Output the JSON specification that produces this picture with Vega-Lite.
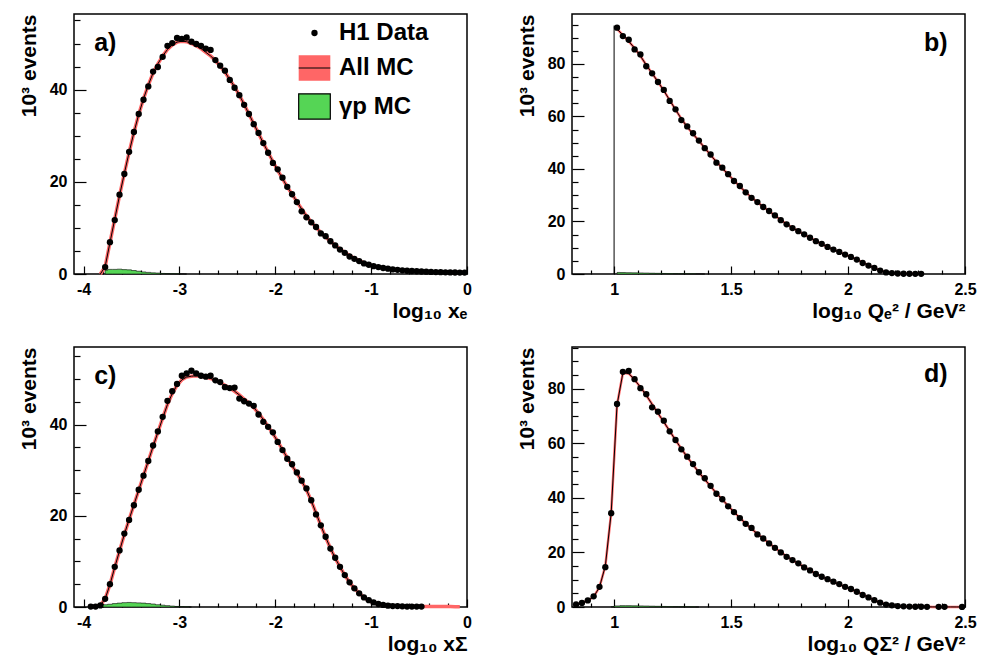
{
  "$schema": "https://vega.github.io/schema/vega-lite/v6.json",
  "background": "white",
  "padding": {"left": 17, "top": 13, "right": 5, "bottom": 5},
  "config": {
    "font": "Liberation Sans",
    "view": {"stroke": "black", "strokeWidth": 1.5},
    "axis": {
      "domain": false, "grid": false, "ticks": true, "tickColor": "black", "tickWidth": 1.2,
      "labelFont": "Liberation Sans", "labelFontWeight": "bold", "labelFontSize": 16, "labelColor": "black",
      "titleFont": "Liberation Sans", "titleFontWeight": "bold", "titleFontSize": 21, "titleColor": "black",
      "labelFlush": false, "labelOverlap": false, "labelBound": false
    },
    "text": {"font": "Liberation Sans", "fontWeight": "bold", "fontSize": 25, "color": "black"}
  },
  "datasets": {
    "a": [
      {"x": -3.825, "m": 0},
      {"x": -3.775, "d": 1.5, "m": 1.6, "g": 0.8},
      {"x": -3.725, "d": 6.9, "m": 6.8, "g": 1.0},
      {"x": -3.675, "d": 11.7, "m": 11.9, "g": 1.0},
      {"x": -3.625, "d": 17.2, "m": 17.0, "g": 1.05},
      {"x": -3.575, "d": 21.7, "m": 21.8, "g": 0.95},
      {"x": -3.525, "d": 26.5, "m": 26.4, "g": 0.9},
      {"x": -3.475, "d": 30.8, "m": 30.7, "g": 0.75},
      {"x": -3.425, "d": 34.7, "m": 34.6, "g": 0.6},
      {"x": -3.375, "d": 37.8, "m": 38.0, "g": 0.45},
      {"x": -3.325, "d": 40.7, "m": 41.0, "g": 0.35},
      {"x": -3.275, "d": 43.9, "m": 43.6, "g": 0.25},
      {"x": -3.225, "d": 44.9, "m": 45.6, "g": 0.2},
      {"x": -3.175, "d": 47.1, "m": 47.3, "g": 0.12},
      {"x": -3.125, "d": 49.5, "m": 48.7, "g": 0.08},
      {"x": -3.075, "d": 50.1, "m": 49.7, "g": 0.05},
      {"x": -3.025, "d": 51.2, "m": 50.3, "g": 0.03},
      {"x": -2.975, "d": 51.0, "m": 50.5, "g": 0.02},
      {"x": -2.925, "d": 51.3, "m": 50.4, "g": 0},
      {"x": -2.875, "d": 50.4, "m": 50.0},
      {"x": -2.825, "d": 49.9, "m": 49.5},
      {"x": -2.775, "d": 49.5, "m": 48.9},
      {"x": -2.725, "d": 48.9, "m": 48.1},
      {"x": -2.675, "d": 48.6, "m": 47.3},
      {"x": -2.625, "d": 46.4, "m": 46.3},
      {"x": -2.575, "d": 45.2, "m": 45.1},
      {"x": -2.525, "d": 44.1, "m": 43.8},
      {"x": -2.475, "d": 42.1, "m": 42.2},
      {"x": -2.425, "d": 40.4, "m": 40.6},
      {"x": -2.375, "d": 38.8, "m": 38.8},
      {"x": -2.325, "d": 36.7, "m": 36.8},
      {"x": -2.275, "d": 34.7, "m": 34.7},
      {"x": -2.225, "d": 32.5, "m": 32.6},
      {"x": -2.175, "d": 30.6, "m": 30.5},
      {"x": -2.125, "d": 28.4, "m": 28.4},
      {"x": -2.075, "d": 26.3, "m": 26.4},
      {"x": -2.025, "d": 24.1, "m": 24.4},
      {"x": -1.975, "d": 22.7, "m": 22.5},
      {"x": -1.925, "d": 20.9, "m": 20.7},
      {"x": -1.875, "d": 18.9, "m": 18.9},
      {"x": -1.825, "d": 17.3, "m": 17.3},
      {"x": -1.775, "d": 15.6, "m": 15.7},
      {"x": -1.725, "d": 13.6, "m": 14.1},
      {"x": -1.675, "d": 12.3, "m": 12.6},
      {"x": -1.625, "d": 11.2, "m": 11.3},
      {"x": -1.575, "d": 10.2, "m": 10.1},
      {"x": -1.525, "d": 8.8, "m": 9.0},
      {"x": -1.475, "d": 8.2, "m": 8.0},
      {"x": -1.425, "d": 7.1, "m": 7.1},
      {"x": -1.375, "d": 6.2, "m": 6.2},
      {"x": -1.325, "d": 5.3, "m": 5.4},
      {"x": -1.275, "d": 4.6, "m": 4.7},
      {"x": -1.225, "d": 3.8, "m": 4.0},
      {"x": -1.175, "d": 3.3, "m": 3.4},
      {"x": -1.125, "d": 2.8, "m": 2.9},
      {"x": -1.075, "d": 2.3, "m": 2.4},
      {"x": -1.025, "d": 2.0, "m": 2.0},
      {"x": -0.975, "d": 1.7, "m": 1.7},
      {"x": -0.925, "d": 1.5, "m": 1.5},
      {"x": -0.875, "d": 1.3, "m": 1.3},
      {"x": -0.825, "d": 1.15, "m": 1.15},
      {"x": -0.775, "d": 1.0, "m": 1.0},
      {"x": -0.725, "d": 0.9, "m": 0.9},
      {"x": -0.675, "d": 0.8, "m": 0.8},
      {"x": -0.625, "d": 0.7, "m": 0.72},
      {"x": -0.575, "d": 0.65, "m": 0.65},
      {"x": -0.525, "d": 0.6, "m": 0.6},
      {"x": -0.475, "d": 0.55, "m": 0.55},
      {"x": -0.425, "d": 0.5, "m": 0.5},
      {"x": -0.375, "d": 0.45, "m": 0.46},
      {"x": -0.325, "d": 0.42, "m": 0.43},
      {"x": -0.275, "d": 0.4, "m": 0.4},
      {"x": -0.225, "d": 0.37, "m": 0.37},
      {"x": -0.175, "d": 0.35, "m": 0.35},
      {"x": -0.125, "d": 0.32, "m": 0.33},
      {"x": -0.075, "d": 0.3, "m": 0.31},
      {"x": -0.025, "d": 0.3, "m": 0.3}
    ],
    "b": [
      {"x": 0.9999, "m": 0},
      {"x": 1.0, "m": 94.5},
      {"x": 1.0125, "d": 93.8, "m": 93.3, "g": 0.6},
      {"x": 1.0375, "d": 90.6, "m": 91.0, "g": 0.55},
      {"x": 1.0625, "d": 89.2, "m": 88.6, "g": 0.5},
      {"x": 1.0875, "d": 85.5, "m": 86.0, "g": 0.45},
      {"x": 1.1125, "d": 83.6, "m": 83.0, "g": 0.4},
      {"x": 1.1375, "d": 79.1, "m": 79.6, "g": 0.35},
      {"x": 1.1625, "d": 76.4, "m": 76.4, "g": 0.3},
      {"x": 1.1875, "d": 73.1, "m": 73.2, "g": 0.25},
      {"x": 1.2125, "d": 70.1, "m": 69.8, "g": 0.2},
      {"x": 1.2375, "d": 65.9, "m": 66.2, "g": 0.15},
      {"x": 1.2625, "d": 62.7, "m": 62.6, "g": 0.12},
      {"x": 1.2875, "d": 58.6, "m": 59.1, "g": 0.1},
      {"x": 1.3125, "d": 56.2, "m": 56.0, "g": 0.08},
      {"x": 1.3375, "d": 53.6, "m": 53.3, "g": 0.06},
      {"x": 1.3625, "d": 50.8, "m": 50.7, "g": 0.04},
      {"x": 1.3875, "d": 47.9, "m": 48.0, "g": 0},
      {"x": 1.4125, "d": 45.5, "m": 45.3},
      {"x": 1.4375, "d": 42.4, "m": 42.7},
      {"x": 1.4625, "d": 40.5, "m": 40.3},
      {"x": 1.4875, "d": 38.0, "m": 37.9},
      {"x": 1.5125, "d": 35.4, "m": 35.6},
      {"x": 1.5375, "d": 33.5, "m": 33.3},
      {"x": 1.5625, "d": 31.1, "m": 31.2},
      {"x": 1.5875, "d": 29.0, "m": 29.1},
      {"x": 1.6125, "d": 27.4, "m": 27.3},
      {"x": 1.6375, "d": 25.5, "m": 25.6},
      {"x": 1.6625, "d": 24.0, "m": 23.9},
      {"x": 1.6875, "d": 22.3, "m": 22.3},
      {"x": 1.7125, "d": 20.5, "m": 20.6},
      {"x": 1.7375, "d": 18.9, "m": 19.0},
      {"x": 1.7625, "d": 17.5, "m": 17.6},
      {"x": 1.7875, "d": 16.3, "m": 16.3},
      {"x": 1.8125, "d": 15.1, "m": 15.0},
      {"x": 1.8375, "d": 13.8, "m": 13.8},
      {"x": 1.8625, "d": 12.5, "m": 12.6},
      {"x": 1.8875, "d": 11.5, "m": 11.4},
      {"x": 1.9125, "d": 10.3, "m": 10.3},
      {"x": 1.9375, "d": 9.3, "m": 9.3},
      {"x": 1.9625, "d": 8.4, "m": 8.4},
      {"x": 1.9875, "d": 7.4, "m": 7.4},
      {"x": 2.0125, "d": 6.5, "m": 6.5},
      {"x": 2.0375, "d": 5.5, "m": 5.5},
      {"x": 2.0625, "d": 4.2, "m": 4.4},
      {"x": 2.0875, "d": 3.2, "m": 3.3},
      {"x": 2.1125, "d": 2.3, "m": 2.3},
      {"x": 2.1375, "d": 1.3, "m": 1.4},
      {"x": 2.1625, "d": 0.6, "m": 0.7},
      {"x": 2.1875, "d": 0.35, "m": 0.35},
      {"x": 2.2125, "d": 0.2, "m": 0.2},
      {"x": 2.2375, "d": 0.1, "m": 0.12},
      {"x": 2.2625, "d": 0.1, "m": 0.08},
      {"x": 2.2875, "d": 0.05, "m": 0.05},
      {"x": 2.3125, "d": 0.05, "m": 0.05}
    ],
    "c": [
      {"x": -3.925, "d": 0.1, "m": 0.1},
      {"x": -3.875, "d": 0.1, "m": 0.15},
      {"x": -3.825, "d": 0.35, "m": 0.4, "g": 0.3},
      {"x": -3.775, "d": 1.8, "m": 1.8, "g": 0.5},
      {"x": -3.725, "d": 5.0, "m": 4.9, "g": 0.6},
      {"x": -3.675, "d": 8.8, "m": 8.7, "g": 0.75},
      {"x": -3.625, "d": 12.4, "m": 12.3, "g": 0.85},
      {"x": -3.575, "d": 16.1, "m": 15.9, "g": 0.95},
      {"x": -3.525, "d": 19.1, "m": 19.2, "g": 1.0},
      {"x": -3.475, "d": 22.3, "m": 22.4, "g": 0.95},
      {"x": -3.425, "d": 25.7, "m": 25.6, "g": 0.9},
      {"x": -3.375, "d": 28.8, "m": 28.8, "g": 0.85},
      {"x": -3.325, "d": 32.0, "m": 32.0, "g": 0.75},
      {"x": -3.275, "d": 35.4, "m": 35.2, "g": 0.65},
      {"x": -3.225, "d": 38.5, "m": 38.3, "g": 0.5},
      {"x": -3.175, "d": 41.7, "m": 41.4, "g": 0.4},
      {"x": -3.125, "d": 45.2, "m": 44.4, "g": 0.3},
      {"x": -3.075, "d": 47.3, "m": 46.8, "g": 0.2},
      {"x": -3.025, "d": 48.9, "m": 48.6, "g": 0.12},
      {"x": -2.975, "d": 50.7, "m": 49.8, "g": 0.08},
      {"x": -2.925, "d": 51.2, "m": 50.4, "g": 0.05},
      {"x": -2.875, "d": 51.8, "m": 50.6, "g": 0},
      {"x": -2.825, "d": 51.2, "m": 50.7},
      {"x": -2.775, "d": 50.7, "m": 50.6},
      {"x": -2.725, "d": 50.5, "m": 50.4},
      {"x": -2.675, "d": 50.7, "m": 50.1},
      {"x": -2.625, "d": 49.7, "m": 49.7},
      {"x": -2.575, "d": 49.3, "m": 49.2},
      {"x": -2.525, "d": 48.2, "m": 48.6},
      {"x": -2.475, "d": 48.0, "m": 48.0},
      {"x": -2.425, "d": 48.1, "m": 47.3},
      {"x": -2.375, "d": 45.7, "m": 46.5},
      {"x": -2.325, "d": 45.1, "m": 45.6},
      {"x": -2.275, "d": 44.6, "m": 44.7},
      {"x": -2.225, "d": 44.1, "m": 43.7},
      {"x": -2.175, "d": 42.2, "m": 42.5},
      {"x": -2.125, "d": 40.6, "m": 41.1},
      {"x": -2.075, "d": 39.5, "m": 39.6},
      {"x": -2.025, "d": 38.3, "m": 38.0},
      {"x": -1.975, "d": 36.2, "m": 36.3},
      {"x": -1.925, "d": 34.4, "m": 34.5},
      {"x": -1.875, "d": 32.5, "m": 32.7},
      {"x": -1.825, "d": 31.3, "m": 31.0},
      {"x": -1.775, "d": 29.5, "m": 29.3},
      {"x": -1.725, "d": 27.7, "m": 27.6},
      {"x": -1.675, "d": 26.0, "m": 25.7},
      {"x": -1.625, "d": 23.4, "m": 23.3},
      {"x": -1.575, "d": 20.3, "m": 20.6},
      {"x": -1.525, "d": 17.9, "m": 17.9},
      {"x": -1.475, "d": 15.4, "m": 15.3},
      {"x": -1.425, "d": 12.8, "m": 12.9},
      {"x": -1.375, "d": 10.8, "m": 10.7},
      {"x": -1.325, "d": 8.8, "m": 8.8},
      {"x": -1.275, "d": 7.0, "m": 7.0},
      {"x": -1.225, "d": 5.4, "m": 5.4},
      {"x": -1.175, "d": 4.1, "m": 4.1},
      {"x": -1.125, "d": 3.0, "m": 3.0},
      {"x": -1.075, "d": 2.1, "m": 2.1},
      {"x": -1.025, "d": 1.5, "m": 1.4},
      {"x": -0.975, "d": 1.0, "m": 0.95},
      {"x": -0.925, "d": 0.65, "m": 0.6},
      {"x": -0.875, "d": 0.45, "m": 0.4},
      {"x": -0.825, "d": 0.3, "m": 0.3},
      {"x": -0.775, "d": 0.2, "m": 0.2},
      {"x": -0.725, "d": 0.2, "m": 0.15},
      {"x": -0.675, "d": 0.15, "m": 0.12},
      {"x": -0.625, "d": 0.1, "m": 0.1},
      {"x": -0.575, "d": 0.1, "m": 0.1},
      {"x": -0.525, "d": 0.1, "m": 0.1},
      {"x": -0.475, "d": 0.1, "m": 0.1},
      {"x": -0.425, "m": 0.1},
      {"x": -0.375, "m": 0.1},
      {"x": -0.325, "m": 0.1},
      {"x": -0.275, "m": 0.1},
      {"x": -0.225, "m": 0.1},
      {"x": -0.175, "m": 0.1},
      {"x": -0.125, "m": 0.08},
      {"x": -0.075, "m": 0.05}
    ],
    "d": [
      {"x": 0.8375, "d": 0.95, "m": 0.9},
      {"x": 0.8625, "d": 1.5, "m": 1.4},
      {"x": 0.8875, "d": 2.4, "m": 2.4},
      {"x": 0.9125, "d": 3.9, "m": 3.7},
      {"x": 0.9375, "d": 7.4, "m": 7.3},
      {"x": 0.9625, "d": 14.6, "m": 15.0},
      {"x": 0.9875, "d": 34.4, "m": 34.5, "g": 0.1},
      {"x": 1.0125, "d": 74.4, "m": 74.0, "g": 0.4},
      {"x": 1.0375, "d": 86.2, "m": 85.8, "g": 0.5},
      {"x": 1.0625, "d": 86.5, "m": 85.6, "g": 0.5},
      {"x": 1.0875, "d": 83.5, "m": 83.3, "g": 0.45},
      {"x": 1.1125, "d": 80.2, "m": 80.6, "g": 0.4},
      {"x": 1.1375, "d": 78.0, "m": 77.6, "g": 0.35},
      {"x": 1.1625, "d": 73.2, "m": 74.3, "g": 0.3},
      {"x": 1.1875, "d": 71.6, "m": 71.0, "g": 0.25},
      {"x": 1.2125, "d": 68.3, "m": 67.8, "g": 0.2},
      {"x": 1.2375, "d": 64.4, "m": 64.5, "g": 0.15},
      {"x": 1.2625, "d": 61.2, "m": 61.2, "g": 0.12},
      {"x": 1.2875, "d": 57.8, "m": 58.0, "g": 0.1},
      {"x": 1.3125, "d": 55.1, "m": 55.0, "g": 0.08},
      {"x": 1.3375, "d": 52.4, "m": 52.1, "g": 0.05},
      {"x": 1.3625, "d": 49.4, "m": 49.3, "g": 0},
      {"x": 1.3875, "d": 47.2, "m": 46.8},
      {"x": 1.4125, "d": 44.4, "m": 44.2},
      {"x": 1.4375, "d": 41.5, "m": 41.7},
      {"x": 1.4625, "d": 39.5, "m": 39.4},
      {"x": 1.4875, "d": 36.9, "m": 37.1},
      {"x": 1.5125, "d": 34.8, "m": 34.8},
      {"x": 1.5375, "d": 32.6, "m": 32.7},
      {"x": 1.5625, "d": 30.5, "m": 30.6},
      {"x": 1.5875, "d": 29.0, "m": 28.7},
      {"x": 1.6125, "d": 26.6, "m": 26.8},
      {"x": 1.6375, "d": 25.1, "m": 25.1},
      {"x": 1.6625, "d": 23.3, "m": 23.4},
      {"x": 1.6875, "d": 21.7, "m": 21.7},
      {"x": 1.7125, "d": 20.0, "m": 20.1},
      {"x": 1.7375, "d": 18.4, "m": 18.6},
      {"x": 1.7625, "d": 17.2, "m": 17.2},
      {"x": 1.7875, "d": 16.0, "m": 15.9},
      {"x": 1.8125, "d": 14.5, "m": 14.6},
      {"x": 1.8375, "d": 13.4, "m": 13.4},
      {"x": 1.8625, "d": 12.1, "m": 12.2},
      {"x": 1.8875, "d": 11.1, "m": 11.1},
      {"x": 1.9125, "d": 10.2, "m": 10.1},
      {"x": 1.9375, "d": 9.3, "m": 9.2},
      {"x": 1.9625, "d": 8.4, "m": 8.3},
      {"x": 1.9875, "d": 7.4, "m": 7.4},
      {"x": 2.0125, "d": 6.6, "m": 6.5},
      {"x": 2.0375, "d": 5.6, "m": 5.6},
      {"x": 2.0625, "d": 4.4, "m": 4.6},
      {"x": 2.0875, "d": 3.5, "m": 3.5},
      {"x": 2.1125, "d": 2.5, "m": 2.5},
      {"x": 2.1375, "d": 1.6, "m": 1.6},
      {"x": 2.1625, "d": 0.9, "m": 0.9},
      {"x": 2.1875, "d": 0.6, "m": 0.55},
      {"x": 2.2125, "d": 0.35, "m": 0.35},
      {"x": 2.2375, "d": 0.25, "m": 0.22},
      {"x": 2.2625, "d": 0.15, "m": 0.15},
      {"x": 2.2875, "d": 0.1, "m": 0.1},
      {"x": 2.3125, "d": 0.1, "m": 0.07},
      {"x": 2.3375, "d": 0.05, "m": 0.05},
      {"x": 2.3625, "m": 0.04},
      {"x": 2.3875, "d": 0.05, "m": 0.04},
      {"x": 2.4125, "d": 0.05, "m": 0.03},
      {"x": 2.4375, "m": 0.03},
      {"x": 2.4625, "m": 0.02},
      {"x": 2.4875, "d": 0.03, "m": 0.02}
    ]
  },
  "columns": 2,
  "spacing": {"row": 24, "column": 42},
  "resolve": {
    "scale": {"color": "independent", "shape": "independent", "size": "independent", "stroke": "independent", "strokeDash": "independent"},
    "legend": {"color": "independent", "shape": "independent", "size": "independent", "stroke": "independent", "strokeDash": "independent"}
  },
  "concat": [
    {
      "width": 393, "height": 260,
      "data": {"name": "a"},
      "resolve": {"axis": {"x": "independent", "y": "independent"}},
      "layer": [
        {
          "transform": [{"fold": ["g", "m", "d"], "as": ["s", "v"]}, {"filter": "isValid(datum.v)"}],
          "encoding": {
            "x": {"field": "x", "type": "quantitative", "scale": {"domain": [-4.1, 0], "nice": false, "zero": false},
              "axis": {"orient": "bottom", "title": "log₁₀ xₑ", "values": [-4, -3, -2, -1, 0], "labelExpr": "toString(datum.value)",
                "tickSize": -8, "labelPadding": 15, "titleAnchor": "end", "titlePadding": 3}},
            "y": {"field": "v", "type": "quantitative", "scale": {"domain": [0, 56.4], "nice": false},
              "axis": {"orient": "left", "title": "10³ events", "values": [0, 20, 40], "labelExpr": "toString(datum.value)",
                "tickSize": -12, "labelPadding": 19, "titleAnchor": "end", "titlePadding": 10}}
          },
          "layer": [
            {"transform": [{"filter": "datum.s === 'g'"}], "mark": {"type": "area", "interpolate": "step", "fill": "#55d555", "stroke": "black", "strokeWidth": 0.6}},
            {"transform": [{"filter": "datum.s === 'm'"}], "mark": {"type": "line", "stroke": "#ff6666", "strokeWidth": 3.5}},
            {"transform": [{"filter": "datum.s === 'm'"}], "mark": {"type": "line", "stroke": "black", "strokeWidth": 1}},
            {"transform": [{"filter": "datum.s === 'd'"}], "mark": {"type": "point", "filled": true, "opacity": 1, "strokeWidth": 1.2},
              "encoding": {
                "color": {"datum": "H1 Data", "type": "nominal",
                  "scale": {"domain": ["H1 Data", "All MC", "γp MC"], "range": ["black", "#ff6666", "#55d555"]},
                  "legend": {"orient": "none", "legendX": 224, "legendY": 7, "title": null, "padding": 0, "labelFontSize": 24, "labelFont": "Liberation Sans", "labelFontWeight": "bold", "labelColor": "black", "labelOffset": 8, "rowPadding": 6.5, "labelLimit": 300, "symbolStrokeWidth": 1.2, "symbolOpacity": 1}},
                "shape": {"datum": "H1 Data", "type": "nominal",
                  "scale": {"domain": ["H1 Data", "All MC", "γp MC"], "range": ["circle", "M-1,0H1V-0.8H-1V0.8H1V0Z", "M-1,-0.8H1V0.8H-1Z"]},
                  "legend": {"orient": "none", "legendX": 224, "legendY": 7, "title": null, "padding": 0, "labelFontSize": 24, "labelFont": "Liberation Sans", "labelFontWeight": "bold", "labelColor": "black", "labelOffset": 8, "rowPadding": 6.5, "labelLimit": 300, "symbolStrokeWidth": 1.2, "symbolOpacity": 1}},
                "size": {"datum": "H1 Data", "type": "nominal",
                  "scale": {"type": "ordinal", "domain": ["H1 Data", "All MC", "γp MC"], "range": [40, 1000, 1000]},
                  "legend": {"orient": "none", "legendX": 224, "legendY": 7, "title": null, "padding": 0, "labelFontSize": 24, "labelFont": "Liberation Sans", "labelFontWeight": "bold", "labelColor": "black", "labelOffset": 8, "rowPadding": 6.5, "labelLimit": 300, "symbolStrokeWidth": 1.2, "symbolOpacity": 1}},
                "stroke": {"datum": "H1 Data", "type": "nominal",
                  "scale": {"domain": ["H1 Data", "All MC", "γp MC"], "range": ["transparent", "black", "black"]},
                  "legend": {"orient": "none", "legendX": 224, "legendY": 7, "title": null, "padding": 0, "labelFontSize": 24, "labelFont": "Liberation Sans", "labelFontWeight": "bold", "labelColor": "black", "labelOffset": 8, "rowPadding": 6.5, "labelLimit": 300, "symbolStrokeWidth": 1.2, "symbolOpacity": 1}},
                "strokeDash": {"datum": "H1 Data", "type": "nominal",
                  "scale": {"domain": ["H1 Data", "All MC", "γp MC"], "range": [[1, 0], [31.6, 3000], [3000, 1]]},
                  "legend": {"orient": "none", "legendX": 224, "legendY": 7, "title": null, "padding": 0, "labelFontSize": 24, "labelFont": "Liberation Sans", "labelFontWeight": "bold", "labelColor": "black", "labelOffset": 8, "rowPadding": 6.5, "labelLimit": 300, "symbolStrokeWidth": 1.2, "symbolOpacity": 1}}
              }}
          ]
        },
        {
          "transform": [{"fold": ["g", "m", "d"], "as": ["s", "v"]}, {"filter": "isValid(datum.v)"}],
          "mark": {"type": "point", "opacity": 0},
          "encoding": {
            "x": {"field": "x", "type": "quantitative", "scale": {"domain": [-4.1, 0], "nice": false, "zero": false},
              "axis": {"orient": "bottom", "title": null, "labels": false, "tickSize": -4,
                "values": [-3.8, -3.6, -3.4, -3.2, -2.8, -2.6, -2.4, -2.2, -1.8, -1.6, -1.4, -1.2, -0.8, -0.6, -0.4, -0.2]}},
            "y": {"field": "v", "type": "quantitative", "scale": {"domain": [0, 56.4], "nice": false},
              "axis": {"orient": "left", "title": null, "labels": false, "tickSize": -6,
                "values": [5, 10, 15, 25, 30, 35, 45, 50, 55]}}
          }
        },
        {
          "data": {"values": [{"label": "a)"}]},
          "mark": {"type": "text", "align": "left", "baseline": "alphabetic"},
          "encoding": {"x": {"datum": -3.89, "type": "quantitative", "axis": null}, "y": {"datum": 48.4, "type": "quantitative", "axis": null}, "text": {"field": "label"}}
        }
      ]
    },
    {
      "width": 393, "height": 260,
      "data": {"name": "b"},
      "resolve": {"axis": {"x": "independent", "y": "independent"}},
      "layer": [
        {
          "transform": [{"fold": ["g", "m", "d"], "as": ["s", "v"]}, {"filter": "isValid(datum.v)"}],
          "encoding": {
            "x": {"field": "x", "type": "quantitative", "scale": {"domain": [0.82, 2.5], "nice": false, "zero": false},
              "axis": {"orient": "bottom", "title": "log₁₀ Qₑ² / GeV²", "values": [1, 1.5, 2, 2.5], "labelExpr": "toString(datum.value)",
                "tickSize": -8, "labelPadding": 15, "titleAnchor": "end", "titlePadding": 3}},
            "y": {"field": "v", "type": "quantitative", "scale": {"domain": [0, 99], "nice": false},
              "axis": {"orient": "left", "title": "10³ events", "values": [0, 20, 40, 60, 80], "labelExpr": "toString(datum.value)",
                "tickSize": -12, "labelPadding": 19, "titleAnchor": "end", "titlePadding": 10}}
          },
          "layer": [
            {"transform": [{"filter": "datum.s === 'g'"}], "mark": {"type": "area", "interpolate": "step", "fill": "#55d555", "stroke": "black", "strokeWidth": 0.6}},
            {"transform": [{"filter": "datum.s === 'm' && datum.x > 1.001"}], "mark": {"type": "line", "stroke": "#ff6666", "strokeWidth": 2.5}},
            {"transform": [{"filter": "datum.s === 'm'"}], "mark": {"type": "line", "stroke": "black", "strokeWidth": 1}},
            {"transform": [{"filter": "datum.s === 'd'"}], "mark": {"type": "circle", "size": 40, "opacity": 1, "color": "black"}}
          ]
        },
        {
          "transform": [{"fold": ["g", "m", "d"], "as": ["s", "v"]}, {"filter": "isValid(datum.v)"}],
          "mark": {"type": "point", "opacity": 0},
          "encoding": {
            "x": {"field": "x", "type": "quantitative", "scale": {"domain": [0.82, 2.5], "nice": false, "zero": false},
              "axis": {"orient": "bottom", "title": null, "labels": false, "tickSize": -4,
                "values": [0.9, 1.1, 1.2, 1.3, 1.4, 1.6, 1.7, 1.8, 1.9, 2.1, 2.2, 2.3, 2.4]}},
            "y": {"field": "v", "type": "quantitative", "scale": {"domain": [0, 99], "nice": false},
              "axis": {"orient": "left", "title": null, "labels": false, "tickSize": -6,
                "values": [5, 10, 15, 25, 30, 35, 45, 50, 55, 65, 70, 75, 85, 90, 95]}}
          }
        },
        {
          "data": {"values": [{"label": "b)"}]},
          "mark": {"type": "text", "align": "right", "baseline": "alphabetic"},
          "encoding": {"x": {"datum": 2.426, "type": "quantitative", "axis": null}, "y": {"datum": 85.1, "type": "quantitative", "axis": null}, "text": {"field": "label"}}
        }
      ]
    },
    {
      "width": 393, "height": 260,
      "data": {"name": "c"},
      "resolve": {"axis": {"x": "independent", "y": "independent"}},
      "layer": [
        {
          "transform": [{"fold": ["g", "m", "d"], "as": ["s", "v"]}, {"filter": "isValid(datum.v)"}],
          "encoding": {
            "x": {"field": "x", "type": "quantitative", "scale": {"domain": [-4.1, 0], "nice": false, "zero": false},
              "axis": {"orient": "bottom", "title": "log₁₀ xΣ", "values": [-4, -3, -2, -1, 0], "labelExpr": "toString(datum.value)",
                "tickSize": -8, "labelPadding": 15, "titleAnchor": "end", "titlePadding": 3}},
            "y": {"field": "v", "type": "quantitative", "scale": {"domain": [0, 57], "nice": false},
              "axis": {"orient": "left", "title": "10³ events", "values": [0, 20, 40], "labelExpr": "toString(datum.value)",
                "tickSize": -12, "labelPadding": 19, "titleAnchor": "end", "titlePadding": 10}}
          },
          "layer": [
            {"transform": [{"filter": "datum.s === 'g'"}], "mark": {"type": "area", "interpolate": "step", "fill": "#55d555", "stroke": "black", "strokeWidth": 0.6}},
            {"transform": [{"filter": "datum.s === 'm'"}], "mark": {"type": "line", "stroke": "#ff6666", "strokeWidth": 3.5}},
            {"transform": [{"filter": "datum.s === 'm' && datum.x < -0.45"}], "mark": {"type": "line", "stroke": "black", "strokeWidth": 1}},
            {"transform": [{"filter": "datum.s === 'd'"}], "mark": {"type": "circle", "size": 40, "opacity": 1, "color": "black"}}
          ]
        },
        {
          "transform": [{"fold": ["g", "m", "d"], "as": ["s", "v"]}, {"filter": "isValid(datum.v)"}],
          "mark": {"type": "point", "opacity": 0},
          "encoding": {
            "x": {"field": "x", "type": "quantitative", "scale": {"domain": [-4.1, 0], "nice": false, "zero": false},
              "axis": {"orient": "bottom", "title": null, "labels": false, "tickSize": -4,
                "values": [-3.8, -3.6, -3.4, -3.2, -2.8, -2.6, -2.4, -2.2, -1.8, -1.6, -1.4, -1.2, -0.8, -0.6, -0.4, -0.2]}},
            "y": {"field": "v", "type": "quantitative", "scale": {"domain": [0, 57], "nice": false},
              "axis": {"orient": "left", "title": null, "labels": false, "tickSize": -6,
                "values": [5, 10, 15, 25, 30, 35, 45, 50, 55]}}
          }
        },
        {
          "data": {"values": [{"label": "c)"}]},
          "mark": {"type": "text", "align": "left", "baseline": "alphabetic"},
          "encoding": {"x": {"datum": -3.89, "type": "quantitative", "axis": null}, "y": {"datum": 48.9, "type": "quantitative", "axis": null}, "text": {"field": "label"}}
        }
      ]
    },
    {
      "width": 393, "height": 260,
      "data": {"name": "d"},
      "resolve": {"axis": {"x": "independent", "y": "independent"}},
      "layer": [
        {
          "transform": [{"fold": ["g", "m", "d"], "as": ["s", "v"]}, {"filter": "isValid(datum.v)"}],
          "encoding": {
            "x": {"field": "x", "type": "quantitative", "scale": {"domain": [0.82, 2.5], "nice": false, "zero": false},
              "axis": {"orient": "bottom", "title": "log₁₀ QΣ² / GeV²", "values": [1, 1.5, 2, 2.5], "labelExpr": "toString(datum.value)",
                "tickSize": -8, "labelPadding": 15, "titleAnchor": "end", "titlePadding": 3}},
            "y": {"field": "v", "type": "quantitative", "scale": {"domain": [0, 95.3], "nice": false},
              "axis": {"orient": "left", "title": "10³ events", "values": [0, 20, 40, 60, 80], "labelExpr": "toString(datum.value)",
                "tickSize": -12, "labelPadding": 19, "titleAnchor": "end", "titlePadding": 10}}
          },
          "layer": [
            {"transform": [{"filter": "datum.s === 'g'"}], "mark": {"type": "area", "interpolate": "step", "fill": "#55d555", "stroke": "black", "strokeWidth": 0.6}},
            {"transform": [{"filter": "datum.s === 'm'"}], "mark": {"type": "line", "stroke": "#ff6666", "strokeWidth": 2.5}},
            {"transform": [{"filter": "datum.s === 'm'"}], "mark": {"type": "line", "stroke": "black", "strokeWidth": 1}},
            {"transform": [{"filter": "datum.s === 'd'"}], "mark": {"type": "circle", "size": 40, "opacity": 1, "color": "black"}}
          ]
        },
        {
          "transform": [{"fold": ["g", "m", "d"], "as": ["s", "v"]}, {"filter": "isValid(datum.v)"}],
          "mark": {"type": "point", "opacity": 0},
          "encoding": {
            "x": {"field": "x", "type": "quantitative", "scale": {"domain": [0.82, 2.5], "nice": false, "zero": false},
              "axis": {"orient": "bottom", "title": null, "labels": false, "tickSize": -4,
                "values": [0.9, 1.1, 1.2, 1.3, 1.4, 1.6, 1.7, 1.8, 1.9, 2.1, 2.2, 2.3, 2.4]}},
            "y": {"field": "v", "type": "quantitative", "scale": {"domain": [0, 95.3], "nice": false},
              "axis": {"orient": "left", "title": null, "labels": false, "tickSize": -6,
                "values": [5, 10, 15, 25, 30, 35, 45, 50, 55, 65, 70, 75, 85, 90, 95]}}
          }
        },
        {
          "data": {"values": [{"label": "d)"}]},
          "mark": {"type": "text", "align": "right", "baseline": "alphabetic"},
          "encoding": {"x": {"datum": 2.426, "type": "quantitative", "axis": null}, "y": {"datum": 82.4, "type": "quantitative", "axis": null}, "text": {"field": "label"}}
        }
      ]
    }
  ]
}
